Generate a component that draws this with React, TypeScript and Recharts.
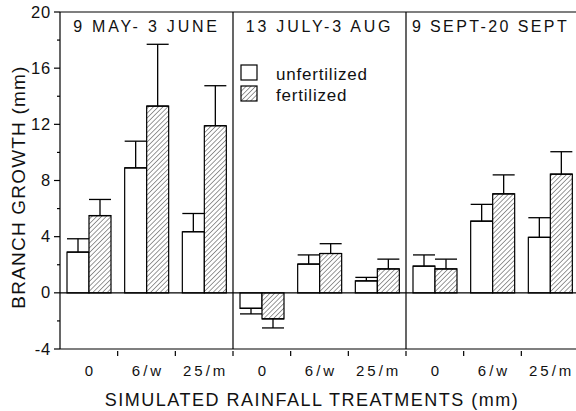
import React from 'react';
import { BarChart, Bar, XAxis, YAxis, ErrorBar, ReferenceLine } from 'recharts';

const categories = ['a0', 'a6', 'a25', 'b0', 'b6', 'b25', 'c0', 'c6', 'c25'];
const tickLabels = ['0', '6/w', '25/m', '0', '6/w', '25/m', '0', '6/w', '25/m'];
const unfertilized = [2.9, 8.9, 4.35, -1.1, 2.05, 0.85, 1.9, 5.1, 3.95];
const unfertilizedErr = [0.95, 1.9, 1.3, 0.4, 0.65, 0.25, 0.8, 1.2, 1.4];
const fertilized = [5.5, 13.3, 11.9, -1.85, 2.8, 1.7, 1.7, 7.05, 8.45];
const fertilizedErr = [1.15, 4.4, 2.85, 0.65, 0.7, 0.7, 0.7, 1.35, 1.6];
const periodTitles = ['9 MAY- 3 JUNE', '13 JULY-3 AUG', '9 SEPT-20 SEPT'];
const periodStarts = ['b0', 'c0'];
const yTicks = [-4, -2, 0, 2, 4, 6, 8, 10, 12, 14, 16, 18, 20];
const legendLabels = ['unfertilized', 'fertilized'];

const asym = (v: number, e: number) => (v >= 0 ? [0, e] : [e, 0]);

const data = categories.map((c, i) => ({
  cat: c,
  u: unfertilized[i],
  uErr: asym(unfertilized[i], unfertilizedErr[i]),
  f: fertilized[i],
  fErr: asym(fertilized[i], fertilizedErr[i]),
}));

const FONT = '"Liberation Sans", Arial, Helvetica, sans-serif';

const YTick = (props: any) => {
  const { x, y, payload } = props;
  const v = payload.value;
  const major = v % 4 === 0;
  return (
    <g>
      <line x1={x} x2={x - (major ? 6 : 3)} y1={y} y2={y} stroke="#000" strokeWidth={1.2} />
      {major && (
        <text x={x - 9} y={y} dy={5.5} textAnchor="end" fontSize={16.5} fontFamily={FONT} fill="#111" letterSpacing={0.8}>
          {v}
        </text>
      )}
    </g>
  );
};

const XTick = (props: any) => {
  const { x, y, payload, index } = props;
  const half = payload && payload.offset ? payload.offset : 28.8;
  return (
    <g>
      <line x1={x + half} x2={x + half} y1={y} y2={y + 5} stroke="#000" strokeWidth={1.2} />
      <text x={x + 1.5} y={y + 25} textAnchor="middle" fontSize={15} fontFamily={FONT} fill="#111" letterSpacing={3}>
        {tickLabels[index]}
      </text>
    </g>
  );
};

const Hatch = ({ id }: { id: string }) => (
  <pattern id={id} patternUnits="userSpaceOnUse" width={3.4} height={3.4} patternTransform="rotate(45)">
    <rect width={3.4} height={3.4} fill="#fff" />
    <line x1={0} y1={0} x2={0} y2={3.4} stroke="#333" strokeWidth={1} />
  </pattern>
);

export default function App() {
  return (
    <div style={{ position: 'absolute', left: 0, top: 0, width: 576, height: 411, overflow: 'hidden', background: '#fff' }}>
      <BarChart
        width={580}
        height={411}
        data={data}
        margin={{ top: 12, right: 1, bottom: 0, left: 0 }}
        barCategoryGap={7}
        barGap={0}
      >
        <defs>
          <Hatch id="hatch" />
        </defs>
        <XAxis
          dataKey="cat"
          height={62}
          tick={<XTick />}
          tickLine={false}
          tickSize={0}
          axisLine={{ stroke: '#000', strokeWidth: 1.2 }}
          interval={0}
        />
        <YAxis
          width={60}
          domain={[-4, 20]}
          ticks={yTicks}
          interval={0}
          tick={<YTick />}
          tickLine={false}
          tickSize={0}
          tickMargin={0}
          axisLine={{ stroke: '#000', strokeWidth: 1.2 }}
        />
        <ReferenceLine y={20} stroke="#000" strokeWidth={1.2} />
        <ReferenceLine y={0} stroke="#000" strokeWidth={1.2} />
        {periodStarts.map((c) => (
          <ReferenceLine key={c} x={c} position="start" stroke="#000" strokeWidth={1.2} />
        ))}
        <Bar dataKey="u" fill="#fff" stroke="#000" strokeWidth={1.2} isAnimationActive={false}>
          <ErrorBar dataKey="uErr" direction="y" width={11} stroke="#000" strokeWidth={1.3} />
        </Bar>
        <Bar dataKey="f" fill="url(#hatch)" stroke="#000" strokeWidth={1.2} isAnimationActive={false}>
          <ErrorBar dataKey="fErr" direction="y" width={11} stroke="#000" strokeWidth={1.3} />
        </Bar>
        {periodTitles.map((t, i) => (
          <ReferenceLine
            key={t}
            x={categories[i * 3 + 1]}
            stroke="none"
            label={{
              value: t,
              position: 'insideTop',
              offset: 9,
              dx: i === 2 ? -2 : 0,
              fontSize: 16,
              fontFamily: FONT,
              fill: '#111',
              letterSpacing: i === 2 ? 2.4 : 2.8,
            }}
          />
        ))}
      </BarChart>
      <svg width={576} height={411} style={{ position: 'absolute', left: 0, top: 0, pointerEvents: 'none' }}>
        <defs>
          <Hatch id="hatch2" />
        </defs>
        <rect x={241} y={65} width={16} height={15} fill="#fff" stroke="#000" strokeWidth={1.2} />
        <rect x={241} y={86} width={16} height={15} fill="url(#hatch2)" stroke="#000" strokeWidth={1.2} />
        <text x={276} y={80} fontSize={17} fontFamily={FONT} fill="#111" letterSpacing={0.8}>{legendLabels[0]}</text>
        <text x={276} y={101} fontSize={17} fontFamily={FONT} fill="#111" letterSpacing={0.8}>{legendLabels[1]}</text>
        <text x={312} y={406} textAnchor="middle" fontSize={18} fontFamily={FONT} fill="#111" letterSpacing={1.5}>
          SIMULATED RAINFALL TREATMENTS (mm)
        </text>
        <text
          transform="translate(25,187) rotate(-90)"
          textAnchor="middle"
          fontSize={19}
          fontFamily={FONT}
          fill="#111"
          letterSpacing={1.2}
        >
          BRANCH GROWTH (mm)
        </text>
      </svg>
    </div>
  );
}
